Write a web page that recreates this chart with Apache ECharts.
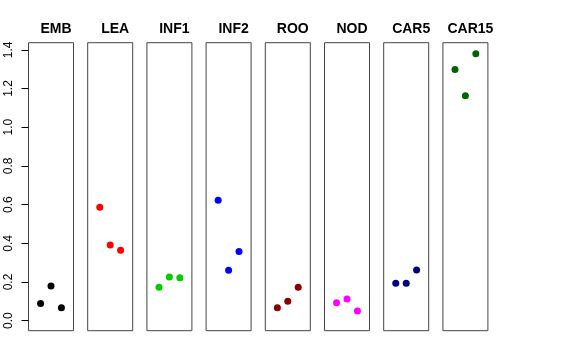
<!DOCTYPE html>
<html><head><meta charset="utf-8">
<script src="https://cdn.jsdelivr.net/npm/echarts@6/dist/echarts.min.js"></script>
<style>html,body{margin:0;padding:0;background:#fff}#c{width:576px;height:360px}</style>
</head><body><div id="c"></div>
<script>
var categories = ['EMB','LEA','INF1','INF2','ROO','NOD','CAR5','CAR15'];
var colors = ['#000000','#ff0000','#00cd00','#0000ff','#8b0000','#ff00ff','#000080','#006400'];
var EMB = [0.088, 0.179, 0.067];
var LEA = [0.586, 0.391, 0.364];
var INF1 = [0.173, 0.226, 0.222];
var INF2 = [0.622, 0.260, 0.357];
var ROO = [0.067, 0.100, 0.173];
var NOD = [0.093, 0.112, 0.050];
var CAR5 = [0.193, 0.193, 0.262];
var CAR15 = [1.299, 1.163, 1.380];
var seriesValues = [EMB, LEA, INF1, INF2, ROO, NOD, CAR5, CAR15];
var yTicks = ['0.0','0.2','0.4','0.6','0.8','1.0','1.2','1.4'];

var chart = echarts.init(document.getElementById('c'), null, {renderer:'canvas'});
var grids = [], xAxes = [], yAxes = [], series = [], titles = [];
var L0 = 28.5, STEP = 59.2, W = 45, TOP = 42.7, H = 288;
for (var i = 0; i < categories.length; i++) {
  var left = L0 + i * STEP;
  grids.push({left: left, top: TOP, width: W, height: H, show: true, borderColor: '#444', borderWidth: 1, backgroundColor: '#fff'});
  xAxes.push({type: 'value', gridIndex: i, min: -0.16, max: 4.16, show: false});
  yAxes.push({type: 'value', gridIndex: i, min: -0.052, max: 1.437, show: false});
  series.push({
    type: 'scatter', xAxisIndex: i, yAxisIndex: i, symbolSize: 7,
    itemStyle: {color: colors[i], opacity: 1},
    data: seriesValues[i].map(function (v, j) { return [j + 1, v]; }),
    silent: true
  });
  titles.push({text: categories[i], left: left + W / 2, top: 17, textAlign: 'center',
    textStyle: {fontFamily: 'Liberation Sans', fontWeight: 'bold', fontSize: 14, color: '#000'}});
}
// shared left axis grid spanning 0..1.4
grids.push({left: L0, top: 49.8, width: W, height: 320.7 - 49.8, show: false});
xAxes.push({type: 'value', gridIndex: 8, min: 0, max: 1, show: false});
yAxes.push({type: 'value', gridIndex: 8, min: 0, max: 1.4, interval: 0.2, position: 'left', offset: 0,
  axisLine: {show: true, lineStyle: {color: '#444', width: 1}},
  axisTick: {show: true, inside: false, length: 7, lineStyle: {color: '#000'}},
  splitLine: {show: false},
  axisLabel: {show: true, rotate: 90, margin: 14, color: '#000', fontFamily: 'Liberation Sans', fontSize: 12,
    formatter: function (v) { var k = Math.round(v / 0.2); return yTicks[k] !== undefined ? yTicks[k] : ''; }}
});
chart.setOption({animation: false, title: titles, grid: grids, xAxis: xAxes, yAxis: yAxes, series: series});
</script></body></html>
